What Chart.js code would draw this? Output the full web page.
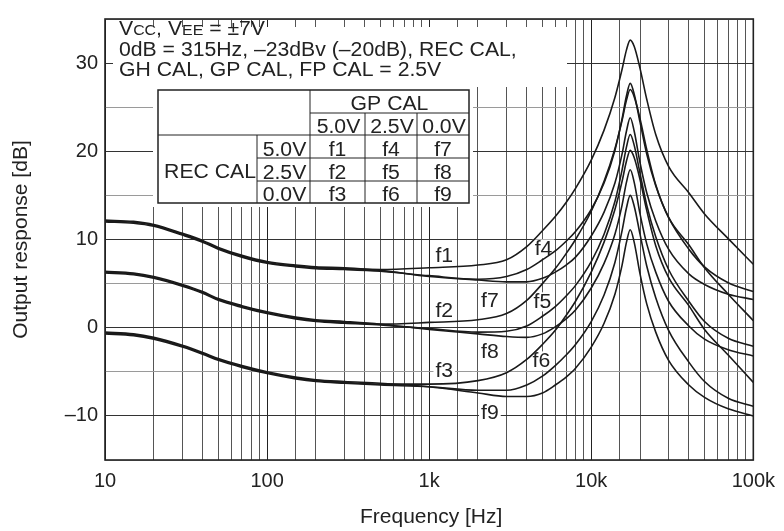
<!DOCTYPE html>
<html>
<head>
<meta charset="utf-8">
<script src="https://cdn.jsdelivr.net/npm/chart.js@4.4.1/dist/chart.umd.min.js"></script>
<style>
    html, body { margin: 0; padding: 0; background: #fff; }
</style>
</head>
<body>
<canvas id="response-chart" width="784" height="531"></canvas>
<script>
// frequency points (Hz) shared by every curve
const frequencies = [10, 15, 20, 30, 40, 50, 70, 100, 150, 200, 300, 500, 1000, 2000, 3000, 4000, 5000, 6000, 7000, 8000,
    10000, 12000, 14000, 15500, 16500, 17400, 18400, 20000, 22000, 25000, 30000, 40000, 50000, 70000, 100000];

// output response [dB]
const f1Values = [12.1, 11.95, 11.6, 10.6, 9.8, 9.0, 8.1, 7.4, 7.0, 6.8, 6.7, 6.6, 6.8, 7.1, 7.7, 9.2, 11.0, 12.6, 14.2, 15.8,
    19.0, 22.4, 26.1, 29.3, 31.5, 32.6, 31.9, 29.4, 25.9, 21.9, 18.3, 15.3, 12.9, 10.1, 7.2];
const f4Values = [12.0, 11.85, 11.5, 10.5, 9.7, 8.9, 8.0, 7.3, 6.9, 6.7, 6.6, 6.4, 5.9, 5.5, 5.8, 6.6, 7.7, 8.7, 9.8, 10.9,
    13.4, 16.4, 20.1, 23.7, 26.3, 27.7, 26.5, 23.3, 19.7, 16.1, 12.5, 8.9, 6.9, 5.1, 4.1];
const f7Values = [12.2, 12.05, 11.7, 10.7, 9.9, 9.1, 8.2, 7.5, 7.1, 6.9, 6.8, 6.5, 5.8, 5.4, 5.2, 5.2, 5.6, 6.3, 7.1, 8.0,
    10.4, 13.1, 16.4, 19.7, 22.3, 23.8, 22.3, 18.7, 15.3, 12.1, 8.9, 6.1, 4.9, 3.8, 3.2];
const f2Values = [6.3, 6.1, 5.7, 4.8, 4.0, 3.2, 2.4, 1.7, 1.1, 0.8, 0.6, 0.4, 0.6, 0.9, 1.6, 3.1, 5.0, 6.7, 8.4, 10.0,
    13.2, 16.6, 20.3, 23.5, 25.8, 27.0, 26.2, 23.7, 20.2, 16.2, 12.5, 9.4, 6.8, 3.8, 0.8];
const f5Values = [6.2, 6.0, 5.6, 4.7, 3.9, 3.1, 2.3, 1.6, 1.0, 0.7, 0.5, 0.3, -0.1, -0.5, -0.4, 0.2, 1.3, 2.4, 3.6, 4.8,
    7.5, 10.6, 14.3, 17.9, 20.5, 21.9, 20.7, 17.5, 13.9, 10.3, 6.6, 3.0, 0.7, -1.2, -2.1];
const f8Values = [6.4, 6.2, 5.8, 4.9, 4.1, 3.3, 2.5, 1.8, 1.2, 0.9, 0.7, 0.4, -0.2, -0.7, -1.0, -1.1, -0.7, 0.1, 1.0, 2.0,
    4.5, 7.3, 10.6, 13.9, 16.5, 17.9, 16.5, 12.9, 9.5, 6.3, 3.0, 0.2, -1.3, -2.5, -3.2];
const f3Values = [-0.6, -0.8, -1.2, -2.1, -2.9, -3.6, -4.4, -5.1, -5.7, -6.0, -6.2, -6.4, -6.4, -6.0, -5.1, -3.6, -1.9, -0.3, 1.4, 3.0,
    6.3, 9.7, 13.4, 16.6, 18.9, 20.1, 19.3, 16.8, 13.3, 9.3, 5.7, 2.5, -0.2, -3.1, -6.2];
const f6Values = [-0.7, -0.9, -1.3, -2.2, -3.0, -3.7, -4.5, -5.2, -5.8, -6.1, -6.3, -6.5, -6.7, -7.1, -7.1, -6.5, -5.5, -4.3, -3.1, -1.9,
    0.7, 3.7, 7.4, 11.0, 13.6, 15.0, 13.8, 10.6, 7.0, 3.4, -0.3, -3.9, -6.1, -8.0, -8.9];
const f9Values = [-0.5, -0.7, -1.1, -2.0, -2.8, -3.5, -4.3, -5.0, -5.6, -5.9, -6.1, -6.3, -6.7, -7.4, -7.8, -7.8, -7.4, -6.5, -5.6, -4.6,
    -2.2, 0.5, 3.8, 7.1, 9.7, 11.1, 9.7, 6.1, 2.7, -0.5, -3.7, -6.5, -7.9, -9.2, -10.0];

const seriesNames = ['f1', 'f2', 'f3', 'f4', 'f5', 'f6', 'f7', 'f8', 'f9'];
const seriesValues = [f1Values, f2Values, f3Values, f4Values, f5Values, f6Values, f7Values, f8Values, f9Values];

const xTickLabels = { 10: '10', 100: '100', 1000: '1k', 10000: '10k', 100000: '100k' };

// curve labels, placed in data coordinates (label centre, baseline)
const curveLabels = [
    { text: 'f1', freq: 1240, db: 7.5 },
    { text: 'f2', freq: 1240, db: 1.2 },
    { text: 'f3', freq: 1240, db: -5.6 },
    { text: 'f7', freq: 2370, db: 2.4 },
    { text: 'f8', freq: 2370, db: -3.4 },
    { text: 'f9', freq: 2370, db: -10.4 },
    { text: 'f4', freq: 5080, db: 8.2 },
    { text: 'f5', freq: 5000, db: 2.2 },
    { text: 'f6', freq: 4930, db: -4.5 }
];

const conditionLines = ['0dB = 315Hz, \u201323dBv (\u201320dB), REC CAL,', 'GH CAL, GP CAL, FP CAL = 2.5V'];
const gpVolts = ['5.0V', '2.5V', '0.0V'];
const recVolts = ['5.0V', '2.5V', '0.0V'];
const tableCells = [['f1', 'f4', 'f7'], ['f2', 'f5', 'f8'], ['f3', 'f6', 'f9']];

const FONT = "'Liberation Sans', Arial, sans-serif";
const INK = '#222';
const STRETCH = 1.06;

function isDecade(v) {
    const l = Math.log10(v);
    return Math.abs(l - Math.round(l)) < 1e-6;
}

function drawText(ctx, str, x, y, size, align) {
    ctx.save();
    ctx.font = size + 'px ' + FONT;
    ctx.fillStyle = INK;
    ctx.textBaseline = 'alphabetic';
    ctx.translate(x, y);
    ctx.scale(STRETCH, 1);
    ctx.textAlign = align || 'left';
    ctx.fillText(str, 0, 0);
    ctx.restore();
}

function textWidth(ctx, str, size) {
    ctx.save();
    ctx.font = size + 'px ' + FONT;
    const w = ctx.measureText(str).width * STRETCH;
    ctx.restore();
    return w;
}

function line(ctx, x1, y1, x2, y2) {
    ctx.beginPath();
    ctx.moveTo(x1, y1);
    ctx.lineTo(x2, y2);
    ctx.stroke();
}

const annotationPlugin = {
    id: 'annotations',
    beforeDatasetsDraw(chart) {
        const ctx = chart.ctx;
        const area = chart.chartArea;
        const xs = chart.scales.x;
        const ys = chart.scales.y;

        // white panels that hide the grid behind the notes and the table
        ctx.save();
        ctx.fillStyle = '#fff';
        ctx.fillRect(area.left + 8, area.top + 8, 567 - area.left - 8, 87 - area.top - 8);
        ctx.fillRect(153, 86, 320, 121);
        ctx.restore();

        // condition text
        let x = 119;
        const big = 20, small = 15;
        const parts = [['V', big], ['CC', small], [', V', big], ['EE', small], [' = \u00b17V', big]];
        parts.forEach(p => {
            drawText(ctx, p[0], x, 35, p[1]);
            x += textWidth(ctx, p[0], p[1]);
        });
        drawText(ctx, conditionLines[0], 119, 56, big);
        drawText(ctx, conditionLines[1], 119, 76, big);

        // table
        const cols = [158, 257, 310, 365, 417, 469];
        const rows = [90, 113, 135, 158, 181, 203];
        ctx.save();
        ctx.strokeStyle = INK;
        ctx.lineWidth = 1.5;
        ctx.strokeRect(cols[0], rows[0], cols[5] - cols[0], rows[5] - rows[0]);
        ctx.lineWidth = 1;
        line(ctx, cols[2], rows[0], cols[2], rows[5]);
        line(ctx, cols[3], rows[1], cols[3], rows[5]);
        line(ctx, cols[4], rows[1], cols[4], rows[5]);
        line(ctx, cols[1], rows[2], cols[1], rows[5]);
        line(ctx, cols[2], rows[1], cols[5], rows[1]);
        line(ctx, cols[0], rows[2], cols[5], rows[2]);
        line(ctx, cols[1], rows[3], cols[5], rows[3]);
        line(ctx, cols[1], rows[4], cols[5], rows[4]);
        ctx.restore();

        const ts = 20;
        drawText(ctx, 'GP CAL', (cols[2] + cols[5]) / 2, rows[1] - 3, ts, 'center');
        gpVolts.forEach((v, i) => drawText(ctx, v, (cols[2 + i] + cols[3 + i]) / 2 + 1, rows[2] - 2, ts, 'center'));
        recVolts.forEach((v, i) => drawText(ctx, v, (cols[1] + cols[2]) / 2 + 1, rows[3 + i] - 2, ts, 'center'));
        drawText(ctx, 'REC CAL', cols[1] - 1, rows[4] - 3, ts, 'right');
        tableCells.forEach((r, i) => r.forEach((c, j) =>
            drawText(ctx, c, (cols[2 + j] + cols[3 + j]) / 2, rows[3 + i] - 2, ts, 'center')));

        // curve labels with white backing
        curveLabels.forEach(l => {
            const px = xs.getPixelForValue(l.freq);
            const py = ys.getPixelForValue(l.db);
            const w = textWidth(ctx, l.text, 20);
            ctx.save();
            ctx.fillStyle = '#fff';
            ctx.fillRect(px - w / 2 - 2, py - 16, w + 4, 19);
            ctx.restore();
            drawText(ctx, l.text, px, py, 20, 'center');
        });
    },
    afterDatasetsDraw(chart) {
        const ctx = chart.ctx;
        const area = chart.chartArea;
        ctx.save();
        ctx.strokeStyle = INK;
        ctx.lineWidth = 1.6;
        ctx.strokeRect(area.left, area.top, area.right - area.left, area.bottom - area.top);
        ctx.restore();
    },
    afterDraw(chart) {
        const ctx = chart.ctx;
        const area = chart.chartArea;
        ctx.save();
        ctx.fillStyle = INK;
        ctx.font = '21px ' + FONT;
        ctx.textAlign = 'center';
        ctx.textBaseline = 'alphabetic';
        ctx.fillText('Frequency [Hz]', (area.left + area.right) / 2 + 2, 523);
        ctx.translate(27, (area.top + area.bottom) / 2);
        ctx.rotate(-Math.PI / 2);
        ctx.fillText('Output response [dB]', 0, 0);
        ctx.restore();
    }
};

function buildDatasets() {
    return seriesNames.map((name, i) => ({
        label: name,
        data: frequencies.map((f, k) => ({ x: f, y: seriesValues[i][k] })),
        borderColor: '#1a1a1a',
        borderWidth: 1.6,
        pointRadius: 0,
        cubicInterpolationMode: 'monotone',
        fill: false
    }));
}

function initChart() {
    const config = {
        type: 'line',
        data: { datasets: buildDatasets() },
        options: {
            responsive: false,
            animation: false,
            devicePixelRatio: 1,
            layout: { padding: { left: 0, right: 27, top: 7, bottom: 0 } },
            plugins: {
                legend: { display: false },
                tooltip: { enabled: false },
                title: { display: false }
            },
            scales: {
                x: {
                    type: 'logarithmic',
                    min: 10,
                    max: 100000,
                    border: { display: false },
                    grid: {
                        drawTicks: false,
                        color: c => (c.tick && isDecade(c.tick.value)) ? '#222' : '#555',
                        lineWidth: 1
                    },
                    ticks: {
                        autoSkip: false,
                        maxRotation: 0,
                        padding: 9,
                        color: INK,
                        font: { family: FONT, size: 20 },
                        callback: v => isDecade(v) ? xTickLabels[Math.round(v)] : ''
                    },
                    afterFit: s => { s.height = 71; }
                },
                y: {
                    type: 'linear',
                    min: -15,
                    max: 35,
                    border: { display: false },
                    grid: {
                        drawTicks: false,
                        color: c => (c.tick && c.tick.value % 10 === 0) ? '#333' : '#9a9a9a',
                        lineWidth: 1
                    },
                    ticks: {
                        stepSize: 5,
                        padding: 7,
                        color: INK,
                        font: { family: FONT, size: 20 },
                        callback: v => v % 10 === 0 ? (v < 0 ? '\u2013' + (-v) : String(v)) : ''
                    },
                    afterFit: s => { s.width = 105; }
                }
            }
        },
        plugins: [annotationPlugin]
    };

    return new Chart(document.getElementById('response-chart'), config);
}

initChart();
</script>
</body>
</html>
